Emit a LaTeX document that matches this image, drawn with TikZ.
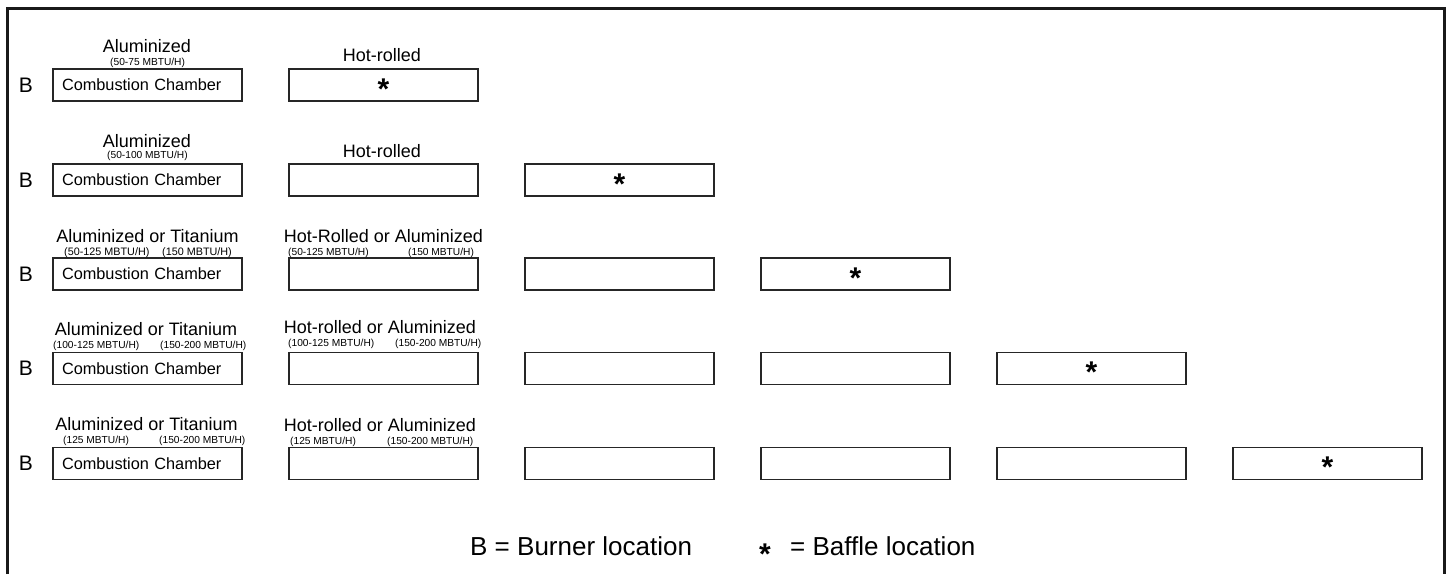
\documentclass[tikz,border=0pt]{standalone}
\usepackage{fontspec}
\setmainfont{Liberation Sans}
\begin{document}
\begin{tikzpicture}[x=1pt,y=-1pt,
  box/.style={draw=black!85, line width=1.1pt, minimum width=189pt, minimum height=32pt, inner sep=0pt},
  ccbox/.style={box, font=\fontsize{16.3}{18}\selectfont, text width=171pt, align=left, inner xsep=9pt},
  big/.style={font=\fontsize{18}{20}\selectfont, inner sep=0pt, anchor=base},
  small/.style={font=\fontsize{10.2}{12}\selectfont, inner sep=0pt, anchor=base west},
  smallb/.style={small, font=\fontsize{10.8}{12}\selectfont},
  burner/.style={font=\fontsize{21}{24}\selectfont, inner sep=0pt},
  star/.style={font=\fontsize{30}{30}\bfseries\selectfont, inner sep=0pt, anchor=base},
  leg/.style={font=\fontsize{26}{30}\selectfont, inner sep=0pt, anchor=base west}]
\useasboundingbox (0,0) rectangle (1449,574);
\draw[line width=3pt, black!90] (7.5,574) -- (7.5,8) -- (1444.5,8) -- (1444.5,574);

\foreach \r/\y in {1/85,2/180,3/274,4/368.5,5/463.5} {
  \node[burner] (b\r) at (26,\y) {B};
  \node[ccbox] (r\r c1) at (147.5,\y) {Combustion Chamber};
  \pgfmathtruncatemacro\n{\r+1}
  \foreach \c in {2,...,\n} {
    \node[box] (r\r c\c) at ({147.5+236*(\c-1)},\y) {};
  }
  \path (r\r c\n.center) ++(0,14) node[star] (s\r) {*};
}

% Row 1
\node[big] (a1) at (147,52) {Aluminized};
\node[small] (m1) at (110,65) {(50-75 MBTU/H)};
\node[big] (h1) at (382,61) {Hot-rolled};
% Row 2
\node[big] (a2) at (147,147) {Aluminized};
\node[small] (m2) at (107,158) {(50-100 MBTU/H)};
\node[big] (h2) at (382,157) {Hot-rolled};
% Row 3
\node[big] (a3) at (147.5,242.5) {Aluminized or Titanium};
\node[smallb] (m3a) at (64,255.5) {(50-125 MBTU/H)};
\node[smallb] (m3b) at (162,255.5) {(150 MBTU/H)};
\node[big] (h3) at (383.5,242) {Hot-Rolled or Aluminized};
\node[small] (n3a) at (288,255) {(50-125 MBTU/H)};
\node[small] (n3b) at (408,255) {(150 MBTU/H)};
% Row 4
\node[big] (a4) at (146,335.5) {Aluminized or Titanium};
\node[small] (m4a) at (53,348.5) {(100-125 MBTU/H)};
\node[small] (m4b) at (160,348.5) {(150-200 MBTU/H)};
\node[big] (h4) at (380,333.5) {Hot-rolled or Aluminized};
\node[small] (n4a) at (288,346.5) {(100-125 MBTU/H)};
\node[small] (n4b) at (395,346.5) {(150-200 MBTU/H)};
% Row 5
\node[big] (a5) at (146.5,430.5) {Aluminized or Titanium};
\node[small] (m5a) at (63,443.5) {(125 MBTU/H)};
\node[small] (m5b) at (159,443.5) {(150-200 MBTU/H)};
\node[big] (h5) at (380,431) {Hot-rolled or Aluminized};
\node[small] (n5a) at (290,444.5) {(125 MBTU/H)};
\node[small] (n5b) at (387,444.5) {(150-200 MBTU/H)};

% Legend
\node[leg] (lb) at (470,555) {B = Burner location};
\node[star] (ls) at (765,564.5) {*};
\node[leg] (lf) at (790,555) {= Baffle location};
\end{tikzpicture}
\end{document}
